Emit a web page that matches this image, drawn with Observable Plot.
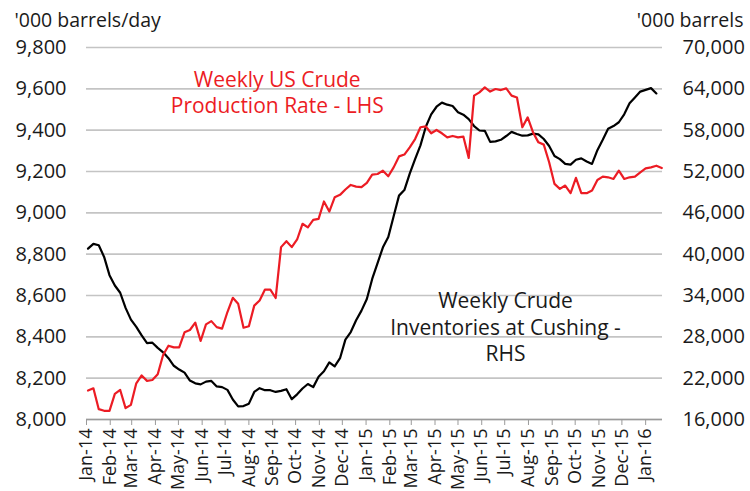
<!DOCTYPE html>
<html><head><meta charset="utf-8">
<script src="https://cdn.jsdelivr.net/npm/d3@7"></script>
<script src="https://cdn.jsdelivr.net/npm/@observablehq/plot@0.6"></script>
<style>
body{margin:0;background:#fff}
#chart svg{font-family:"Open Sans",sans-serif}
</style>
</head><body><div id="chart"></div>
<script>
// Weekly series, first observation on startDate, one value per week
const startDate = "2014-01-03";
const productionLHS = [
  8140,8151,8050,8042,8042,8124,8143,8055,8071,8175,
  8213,8187,8191,8219,8312,8357,8349,8349,8422,8433,
  8469,8380,8460,8476,8447,8440,8520,8589,8560,8444,
  8451,8551,8576,8629,8628,8588,8834,8863,8834,8871,
  8947,8930,8966,8971,9055,9006,9075,9087,9113,9135,
  9127,9124,9145,9185,9188,9204,9177,9220,9273,9282,
  9317,9357,9414,9418,9385,9401,9385,9365,9372,9365,
  9369,9266,9567,9583,9607,9587,9599,9594,9602,9567,
  9558,9414,9462,9389,9341,9330,9245,9140,9116,9132,
  9095,9169,9095,9095,9108,9159,9175,9172,9164,9204,
  9164,9172,9175,9196,9215,9220,9228,9217
];
const inventoriesRHS = [
  40800,41500,41300,39600,36950,35450,34400,32200,30500,29450,
  28200,27100,27150,26400,25750,24900,23800,23250,22800,21650,
  21250,21100,21500,21600,20800,20700,20300,18900,17900,17950,
  18300,20000,20550,20250,20250,20000,20150,20400,18950,19650,
  20500,21150,20700,22200,23000,24300,23700,24900,27600,28700,
  30400,31800,33500,36400,38700,41000,42500,45500,48500,49300,
  51700,53800,55800,58500,60300,61400,62000,61700,61500,60600,
  60250,59600,58600,57950,57900,56300,56370,56600,57150,57750,
  57450,57200,57250,57500,57400,56720,55700,54250,53800,53100,
  53000,53700,53900,53450,53100,55100,56600,58200,58600,59150,
  60300,61900,62750,63600,63850,64100,63330
];
const leftTicks = [8000,8200,8400,8600,8800,9000,9200,9400,9600,9800];
const rightTicks = [16000,22000,28000,34000,40000,46000,52000,58000,64000,70000];
const monthTicks = [
  "2014-01-01","2014-02-01","2014-03-01","2014-04-01","2014-05-01","2014-06-01",
  "2014-07-01","2014-08-01","2014-09-01","2014-10-01","2014-11-01","2014-12-01",
  "2015-01-01","2015-02-01","2015-03-01","2015-04-01","2015-05-01","2015-06-01",
  "2015-07-01","2015-08-01","2015-09-01","2015-10-01","2015-11-01","2015-12-01",
  "2016-01-01"
];
const xDomain = ["2014-01-01","2016-01-23"];
const leftAxisTitle = "'000 barrels/day";
const rightAxisTitle = "'000 barrels";
const annotations = [
  {date: "2014-09-07", value: 9588, text: "Weekly US Crude\nProduction Rate - LHS", color: "#ec1c24"},
  {date: "2015-07-02", value: 8451, text: "Weekly Crude\nInventories at Cushing -\nRHS", color: "#1a1a1a"}
];

const red = "#ec1c24";
const start = new Date(startDate + "T00:00:00Z");
const weekDate = i => d3.utcDay.offset(start, 7 * i);
const [l0, l1] = [leftTicks[0], leftTicks[leftTicks.length - 1]];
const [r0, r1] = [rightTicks[0], rightTicks[rightTicks.length - 1]];
const toLeft = v => l0 + (v - r0) * (l1 - l0) / (r1 - r0);

const prod = productionLHS.map((v, i) => ({date: weekDate(i), value: v}));
const inv = inventoriesRHS.map((v, i) => ({date: weekDate(i), value: toLeft(v)}));
const months = monthTicks.map(d => new Date(d + "T00:00:00Z"));
const ann = annotations.map(a => ({...a, date: new Date(a.date + "T00:00:00Z")}));
const fmt = d3.format(",");

const chart = Plot.plot({
  width: 750,
  height: 491,
  marginLeft: 86,
  marginRight: 88,
  marginTop: 47,
  marginBottom: 72,
  style: {fontFamily: "Open Sans, sans-serif", color: "#1a1a1a", background: "#fff"},
  x: {type: "utc", domain: xDomain.map(d => new Date(d + "T00:00:00Z"))},
  y: {domain: [l0, l1]},
  marks: [
    Plot.gridY(leftTicks, {stroke: "#c4c4c4", strokeOpacity: 1, strokeWidth: 1.6}),
    Plot.ruleY([l0], {stroke: "#9a9a9a", strokeWidth: 1.4}),
    Plot.axisY(leftTicks, {anchor: "left", tickSize: 0, tickPadding: 20, tickFormat: fmt, fontSize: 20, label: null}),
    Plot.axisY(leftTicks, {anchor: "right", tickSize: 0, tickPadding: 20, tickFormat: (d, i) => fmt(rightTicks[leftTicks.indexOf(d)]), fontSize: 20, label: null}),
    Plot.axisX(months, {tickFormat: d3.utcFormat("%b-%y"), tickRotate: -90, tickSize: 6, tickPadding: 3, stroke: "#9a9a9a", fontSize: 18, label: null}),
    Plot.line(inv, {x: "date", y: "value", stroke: "#000", strokeWidth: 2.2}),
    Plot.line(prod, {x: "date", y: "value", stroke: red, strokeWidth: 2.2}),
    Plot.text(ann, {x: "date", y: "value", text: "text", fill: "color", fontSize: 21, lineHeight: 1.25, textAnchor: "middle"}),
    Plot.text([leftAxisTitle], {frameAnchor: "top-left", dx: -72, dy: -34, textAnchor: "start", fontSize: 19.5}),
    Plot.text([rightAxisTitle], {frameAnchor: "top-right", dx: 81, dy: -34, textAnchor: "end", fontSize: 19.5})
  ]
});
document.getElementById("chart").append(chart);
</script>
</body></html>
